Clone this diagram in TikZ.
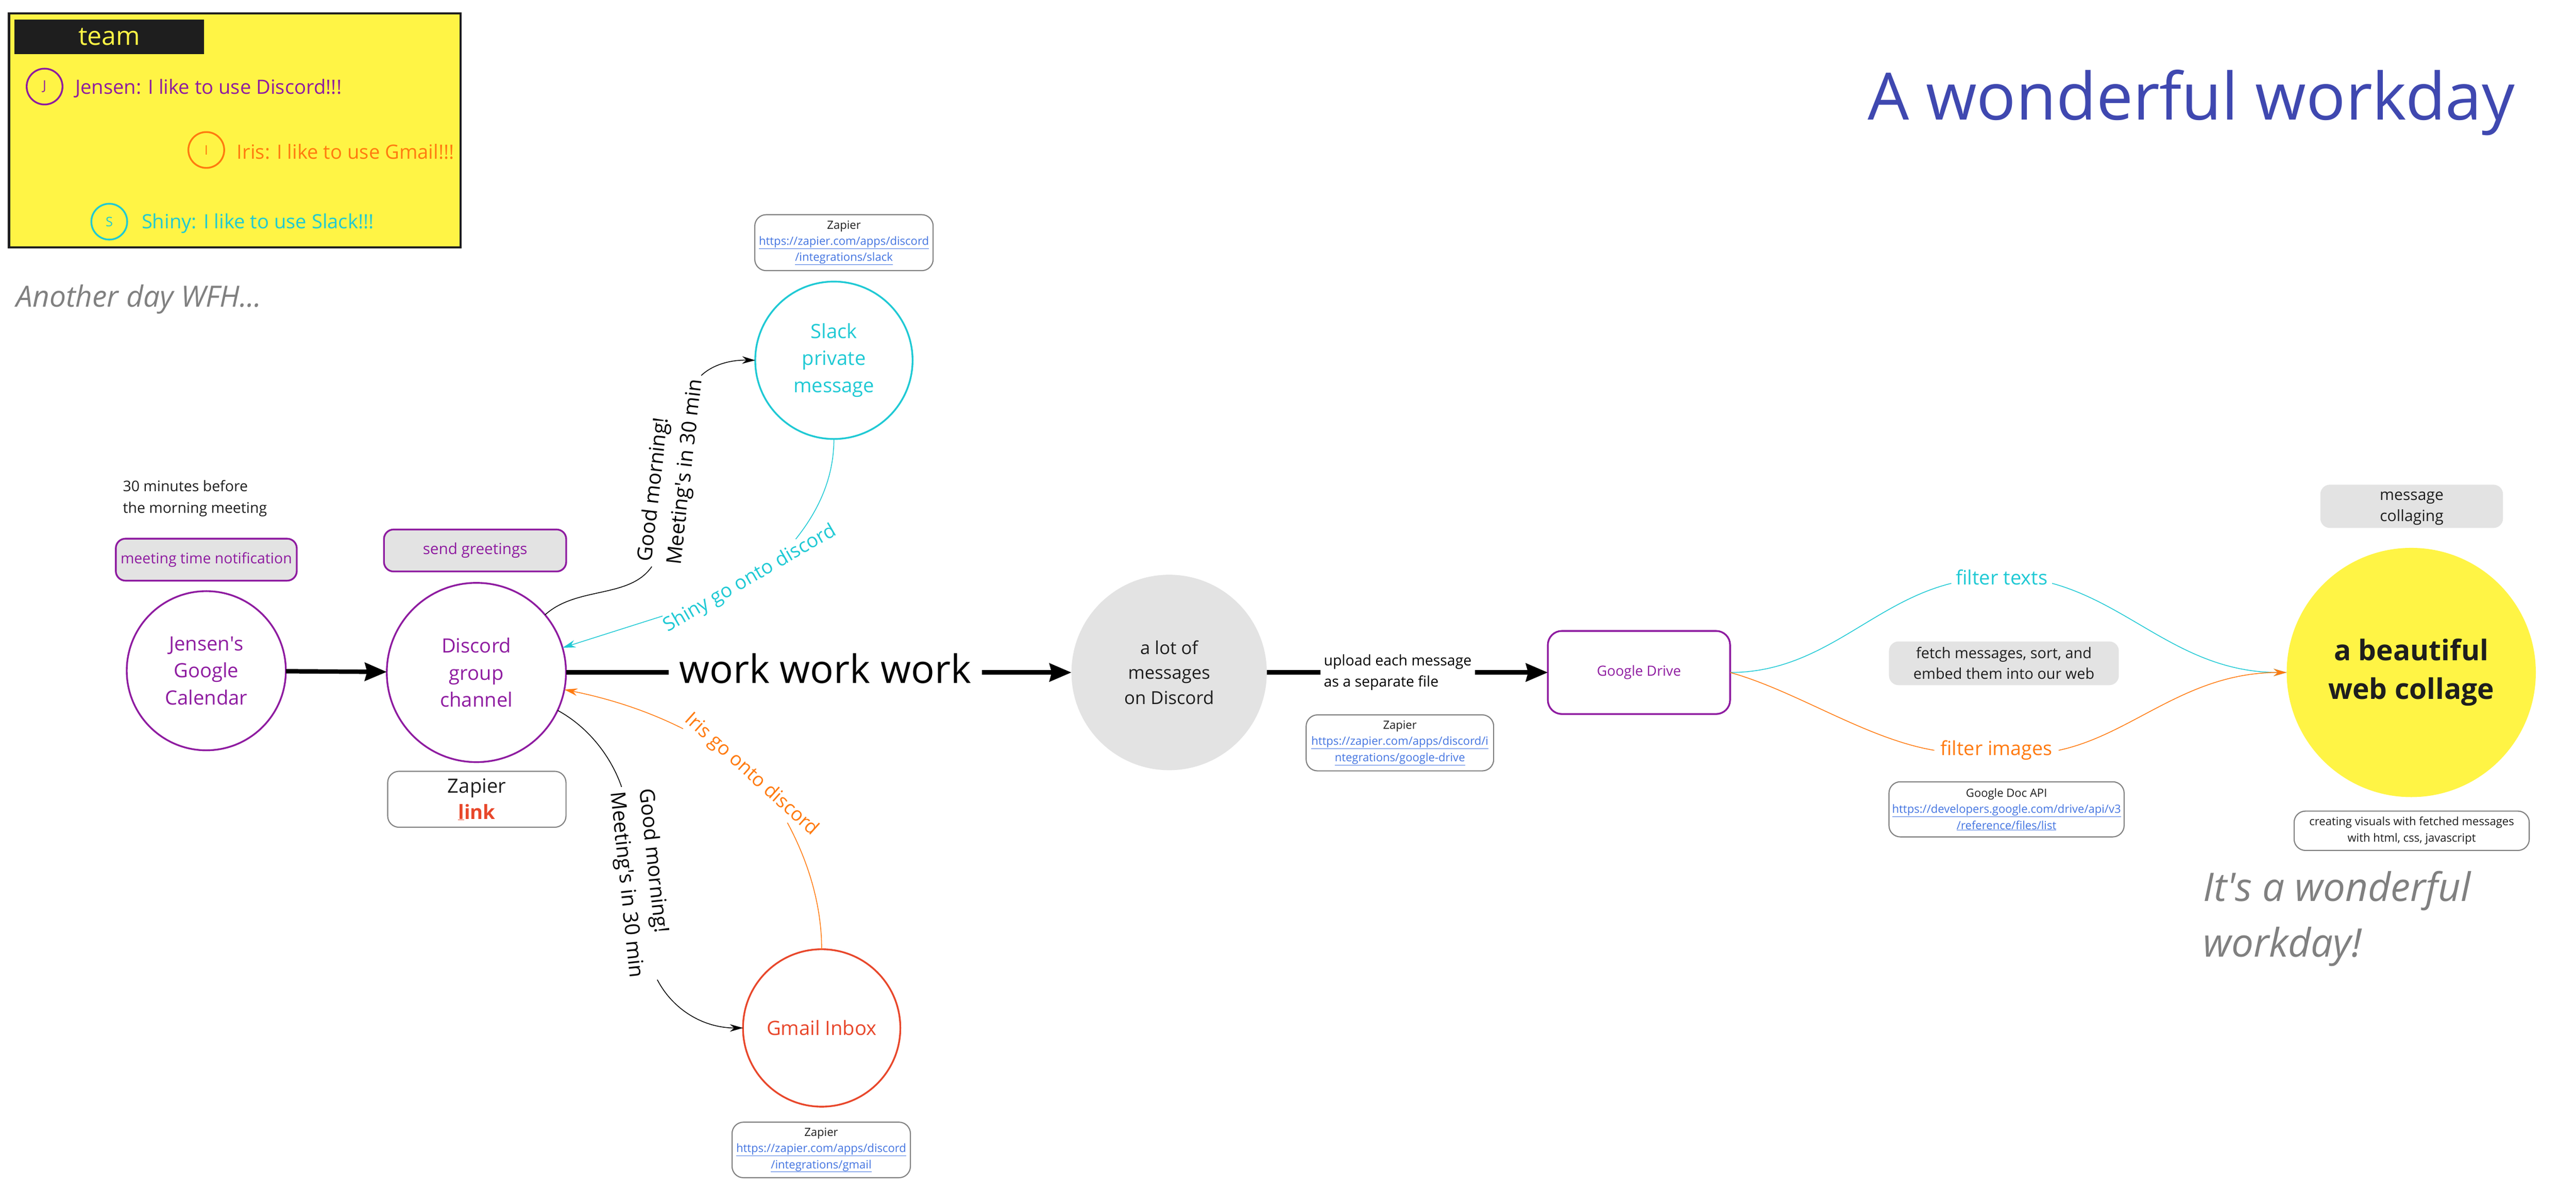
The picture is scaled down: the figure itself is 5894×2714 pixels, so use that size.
\documentclass[tikz,border=0pt]{standalone}
\usepackage{fontspec}
\setmainfont{Open Sans}
\usepackage{tikz}
\usetikzlibrary{arrows.meta}
\definecolor{plum}{HTML}{8E1BA0}
\definecolor{aqua}{HTML}{1FC9D4}
\definecolor{tang}{HTML}{FF7A0F}
\definecolor{brick}{HTML}{E8472B}
\definecolor{pale}{HTML}{E3E3E3}
\definecolor{lemon}{HTML}{FFF445}
\definecolor{ink}{HTML}{1E1E1E}
\definecolor{linkblue}{HTML}{4374E0}
\definecolor{dim}{HTML}{808080}
\definecolor{royal}{HTML}{3F48B0}
\newcommand{\fsz}[2]{\fontsize{#1}{#2}\selectfont}
\tikzset{
  ring/.style={circle,draw,line width=4pt,inner sep=0pt,outer sep=0pt,align=center,font=\fsz{45}{62}},
  tagbox/.style={rectangle,rounded corners=22pt,draw=plum,line width=4pt,fill=pale,text=plum,align=center,inner sep=0pt,font=\fsz{33.5}{48}},
  greybox/.style={rectangle,rounded corners=22pt,fill=pale,text=ink,align=center,inner sep=0pt,font=\fsz{34}{47}},
  linkbox/.style={rectangle,rounded corners=26pt,draw=dim,line width=2.5pt,text=ink,align=center,inner sep=0pt,font=\fsz{26}{37}},
  avatar/.style={circle,draw,line width=4pt,minimum size=82pt,inner sep=0pt,font=\fsz{30}{36}},
  teamline/.style={anchor=west,inner sep=0pt,font=\fsz{45}{50}},
  quip/.style={anchor=west,inner sep=0pt,align=left,text=dim,font=\fsz{90}{128}\itshape},
  bigline/.style={line width=10pt,black},
  bigarrow/.style={bigline,-{Stealth[length=50pt,width=41pt,inset=5pt]}},
  thin/.style={line width=1.8pt},
  thinarrow/.style={thin,-{Stealth[length=30pt,width=17pt]}}
}
\newcommand{\lnk}[1]{\textcolor{linkblue}{\underline{#1}}}
\begin{document}
\begin{tikzpicture}[x=1pt,y=-1pt]
  \useasboundingbox (0,0) rectangle (5894,2714);
  % team legend
  \node[draw=ink,line width=5pt,fill=lemon,minimum width=1033pt,minimum height=535pt,inner sep=0pt] at (537,298) (team) {};
  \node[fill=ink,text=lemon,minimum width=433pt,minimum height=79pt,inner sep=0pt,font=\fsz{59}{70}] at (250,84) (teamtitle) {team};
  \node[avatar,draw=plum,text=plum] at (102,198) (jbadge) {J};
  \node[avatar,draw=tang,text=tang] at (472,343) (ibadge) {I};
  \node[avatar,draw=aqua,text=aqua] at (250,507) (sbadge) {S};
  \node[teamline,text=plum] at (172,202) (jline) {Jensen: I like to use Discord!!!};
  \node[teamline,text=tang] at (542,347) (iline) {Iris: I like to use Gmail!!!};
  \node[teamline,text=aqua] at (324,511) (sline) {Shiny: I like to use Slack!!!};
  \node[quip,font=\fsz{67}{90}\itshape] at (37,684) (wfh) {Another day WFH...};
  \node[anchor=base west,inner sep=0pt,text=royal,font=\fsz{149.5}{180}] at (4273,274) (title) {A wonderful workday};
  % main flow
  \node[ring,draw=plum,text=plum,minimum size=364pt] at (472,1534) (calendar) {Jensen\textquotesingle s\\Google\\Calendar};
  \node[ring,draw=plum,text=plum,minimum size=410pt] at (1090,1538) (discord) {Discord\\group\\channel};
  \node[ring,draw=aqua,text=aqua,minimum size=360pt] at (1908,824) (slack) {Slack\\private\\message};
  \node[ring,draw=brick,text=brick,minimum size=360pt] at (1880,2351) (gmail) {Gmail Inbox};
  \node[circle,fill=pale,text=ink,minimum size=447pt,inner sep=0pt,outer sep=0pt,align=center,font=\fsz{41}{57}] at (2675,1538) (lots) {a lot of\\messages\\on Discord};
  \node[rectangle,rounded corners=32pt,draw=plum,line width=4pt,text=plum,minimum width=417pt,minimum height=190pt,inner sep=0pt,outer sep=0pt,font=\fsz{32}{40}] at (3750,1538) (drive) {Google Drive};
  \node[circle,fill=lemon,text=ink,minimum size=570pt,inner sep=0pt,outer sep=0pt,align=center,font=\fsz{65}{89}\bfseries] at (5517,1538) (collage) {a beautiful\\web collage};
  \node[inner sep=24pt,text height=70pt,text depth=22pt,font=\fsz{89.5}{100}] at (1888,1538) (workwork) {work work work};
  \node[inner sep=8pt,align=left,font=\fsz{33.5}{48}] at (3198,1538) (upload) {upload each message\\as a separate file};
  % notes
  \node[anchor=west,inner sep=0pt,align=left,text=ink,font=\fsz{33.5}{49}] at (281,1140) (before) {30 minutes before\\the morning meeting};
  \node[tagbox,minimum width=414pt,minimum height=96pt] at (472,1280) (notify) {meeting time notification};
  \node[tagbox,minimum width=417pt,minimum height=96pt,font=\fsz{35}{48}] at (1087,1259) (greet) {send greetings};
  \node[linkbox,minimum width=408pt,minimum height=128pt,font=\fsz{45}{60}] at (1091,1828) (zaplink) {Zapier\\\textcolor{brick}{\bfseries\underline{l}ink}};
  \node[linkbox,minimum width=408pt,minimum height=128pt] at (1931,555) (zapslack) {Zapier\\\lnk{https://zapier.com/apps/discord}\\\lnk{/integrations/slack}};
  \node[linkbox,minimum width=408pt,minimum height=127pt] at (1879,2630) (zapgmail) {Zapier\\\lnk{https://zapier.com/apps/discord}\\\lnk{/integrations/gmail}};
  \node[linkbox,minimum width=429pt,minimum height=128pt] at (3203,1699) (zapdrive) {Zapier\\\lnk{https://zapier.com/apps/discord/i}\\\lnk{ntegrations/google-drive}};
  \node[greybox,minimum width=526pt,minimum height=100pt] at (4585,1517) (fetch) {fetch messages, sort, and\\embed them into our web};
  \node[linkbox,minimum width=538pt,minimum height=126pt] at (4591,1851) (docapi) {Google Doc API\\\lnk{https://developers.google.com/drive/api/v3}\\\lnk{/reference/files/list}};
  \node[rectangle,fill=pale,rounded corners=22pt,minimum width=418pt,minimum height=99pt,inner sep=0pt] at (5518,1158) (msgcollage) {};
  \node[anchor=center,align=center,inner sep=0pt,text=ink,font=\fsz{35.5}{48}] at (5518,1163) (msgtext) {message\\collaging};
  \node[linkbox,minimum width=538pt,minimum height=90pt,font=\fsz{26}{38}] at (5518,1900) (visuals) {creating visuals with fetched messages\\with html, css, javascript};
  \node[quip] at (5041,2101) (wonderful) {It\textquotesingle s a wonderful\\workday!};
  % rotated labels on the curved connectors
  \node[rotate=83.5,inner sep=10pt,align=left,font=\fsz{47}{67}] at (1536,1076) (goodslack) {Good morning!\\Meeting\textquotesingle s in 30 min};
  \node[rotate=-84,inner sep=10pt,align=left,font=\fsz{47}{67}] at (1465,2020) (goodgmail) {Good morning!\\Meeting\textquotesingle s in 30 min};
  \node[rotate=30,inner sep=4pt,text=aqua,font=\fsz{44.5}{60}] at (1716,1324) (shiny) {Shiny go onto discord};
  \node[rotate=-42,inner sep=4pt,text=tang,font=\fsz{44}{60}] at (1719,1772) (iris) {Iris go onto discord};
  \node[inner sep=10pt,text=aqua,font=\fsz{45}{60}] at (4580,1320) (ftexts) {filter texts};
  \node[inner sep=14pt,text=tang,font=\fsz{44.5}{60}] at (4568,1716) (fimages) {filter images};
  % connectors
  \foreach \x/\y in {calendar/discord,workwork/lots,upload/drive} \draw[bigarrow] (\x) -- (\y);
  \foreach \x/\y in {discord/workwork,lots/upload} \draw[bigline] (\x) -- (\y);
  \draw[thin] (discord.40) .. controls (1320,1340) and (1440,1370) .. (goodslack.175);
  \draw[thinarrow] (goodslack.-11) .. controls (1635,830) and (1680,823) .. (slack.west);
  \draw[thin] (discord.-25) .. controls (1350,1665) and (1400,1735) .. (goodgmail.185);
  \draw[thinarrow] (goodgmail.4) .. controls (1540,2310) and (1610,2351) .. (gmail.west);
  \draw[thin,aqua] (slack.south) .. controls (1908,1090) and (1875,1165) .. (shiny.11);
  \draw[thinarrow,aqua] (shiny.173) -- (discord.16);
  \draw[thin,tang] (gmail.north) .. controls (1880,2090) and (1860,1990) .. (iris.-11);
  \draw[thinarrow,tang] (iris.188) .. controls (1470,1620) and (1380,1595) .. (discord.-11);
  \draw[thin,aqua] (drive.east) .. controls (4170,1538) and (4280,1380) .. (ftexts.187.5);
  \draw[thinarrow,aqua] (ftexts.-7.5) .. controls (4880,1385) and (4995,1538) .. (collage.west);
  \draw[thin,tang] (drive.east) .. controls (4110,1580) and (4270,1690) .. (fimages.west);
  \draw[thinarrow,tang] (fimages.east) .. controls (4880,1680) and (5000,1538) .. (collage.west);
\end{tikzpicture}
\end{document}
